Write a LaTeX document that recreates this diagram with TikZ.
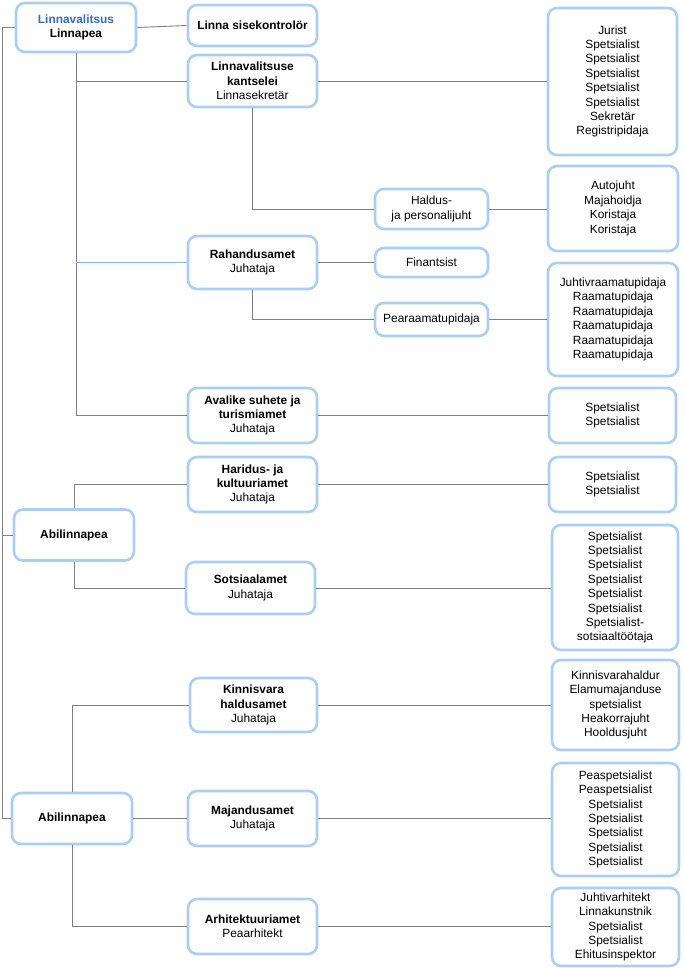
\documentclass[tikz,border=0pt]{standalone}
\usepackage{fontspec}
\setmainfont{Liberation Sans}
\definecolor{boxblue}{RGB}{172,206,242}
\definecolor{titleblue}{RGB}{59,109,181}
\definecolor{linegray}{RGB}{128,128,128}
\definecolor{lineblue}{RGB}{140,180,226}
\tikzset{
  box/.style={draw=boxblue, line width=2.6pt, rounded corners=9pt, fill=white,
    align=center, inner sep=0pt, font=\fontsize{11.9}{14.4}\selectfont},
  conn/.style={draw=linegray, line width=0.9pt},
  connblue/.style={draw=lineblue, line width=0.9pt}
}
\begin{document}
\begin{tikzpicture}[x=1pt,y=-1pt]
\useasboundingbox (0,0) rectangle (683,968);
% left column
\node[box, minimum width=120pt, minimum height=49pt] (lv) at (76,27.5) {\textcolor{titleblue}{\textbf{Linnavalitsus}}\\\textbf{Linnapea}};
\node[box, minimum width=120pt, minimum height=51pt] (ab1) at (74,535) {\textbf{Abilinnapea}};
\node[box, minimum width=120pt, minimum height=51pt] (ab2) at (72,818.5) {\textbf{Abilinnapea}};
% second column
\node[box, minimum width=129pt, minimum height=41pt] (sk) at (252.5,25.5) {\textbf{Linna sisekontrolör}};
\node[box, minimum width=129pt, minimum height=52pt] (kan) at (252.5,81) {\textbf{Linnavalitsuse}\\\textbf{kantselei}\\Linnasekretär};
\node[box, minimum width=129pt, minimum height=53pt] (rah) at (252.5,262.5) {\textbf{Rahandusamet}\\Juhataja};
\node[box, minimum width=129pt, minimum height=55pt] (ava) at (252.5,415.5) {\textbf{Avalike suhete ja}\\\textbf{turismiamet}\\Juhataja};
\node[box, minimum width=129pt, minimum height=55pt] (har) at (252.5,484.5) {\textbf{Haridus- ja}\\\textbf{kultuuriamet}\\Juhataja};
\node[box, minimum width=129pt, minimum height=52pt] (sots) at (250.5,588) {\textbf{Sotsiaalamet}\\Juhataja};
\node[box, minimum width=127pt, minimum height=54pt] (kin) at (253.5,705) {\textbf{Kinnisvara}\\\textbf{haldusamet}\\Juhataja};
\node[box, minimum width=129pt, minimum height=55pt] (maj) at (252.5,818.5) {\textbf{Majandusamet}\\Juhataja};
\node[box, minimum width=129pt, minimum height=55pt] (arh) at (252.5,926.5) {\textbf{Arhitektuuriamet}\\Peaarhitekt};
% third column
\node[box, minimum width=113pt, minimum height=40pt] (hal) at (431.5,209) {Haldus-\\ja personalijuht};
\node[box, minimum width=113pt, minimum height=29pt] (fin) at (431.5,262.5) {Finantsist};
\node[box, minimum width=113pt, minimum height=33pt] (pea) at (431.5,319.5) {Pearaamatupidaja};
% right column
\node[box, minimum width=129pt, minimum height=147pt] (r1) at (612.5,81.5) {Jurist\\Spetsialist\\Spetsialist\\Spetsialist\\Spetsialist\\Spetsialist\\Sekretär\\Registripidaja};
\node[box, minimum width=130pt, minimum height=85pt] (r2) at (613,208.5) {Autojuht\\Majahoidja\\Koristaja\\Koristaja};
\node[box, minimum width=130pt, minimum height=113pt] (r3) at (613,319.5) {Juhtivraamatupidaja\\Raamatupidaja\\Raamatupidaja\\Raamatupidaja\\Raamatupidaja\\Raamatupidaja};
\node[box, minimum width=127pt, minimum height=55pt] (r4) at (612.5,415.5) {Spetsialist\\Spetsialist};
\node[box, minimum width=127pt, minimum height=55pt] (r5) at (612.5,484.5) {Spetsialist\\Spetsialist};
\node[box, minimum width=126pt, minimum height=125pt] (r6) at (615,587.5) {Spetsialist\\Spetsialist\\Spetsialist\\Spetsialist\\Spetsialist\\Spetsialist\\Spetsialist-\\sotsiaaltöötaja};
\node[box, minimum width=127pt, minimum height=90pt] (r7) at (615.5,705) {Kinnisvarahaldur\\Elamumajanduse\\spetsialist\\Heakorrajuht\\Hooldusjuht};
\node[box, minimum width=127pt, minimum height=113pt] (r8) at (615.5,819.5) {Peaspetsialist\\Peaspetsialist\\Spetsialist\\Spetsialist\\Spetsialist\\Spetsialist\\Spetsialist};
\node[box, minimum width=127pt, minimum height=78pt] (r9) at (615.5,927) {Juhtivarhitekt\\Linnakunstnik\\Spetsialist\\Spetsialist\\Ehitusinspektor};
% trunk coordinate
\coordinate (t0) at (2,27.5);
% connectors
\draw[conn] (lv.west) -- (lv.west -| t0) -- (ab2.west -| t0) -- (ab2.west);
\draw[conn] (ab1.west -| t0) -- (ab1.west);
\draw[conn] (lv.east) -- (sk.west);
\draw[conn] (lv.south) -- (lv.south |- ava.west) -- (ava.west);
\draw[conn] (lv.south |- kan.west) -- (kan.west);
\draw[connblue] (lv.south |- rah.west) -- (rah.west);
\draw[conn] (kan.east) -- (kan.east -| r1.west);
\draw[conn] (kan.south) -- (kan.south |- hal.west) -- (hal.west);
\draw[conn] (hal.east) -- (hal.east -| r2.west);
\draw[conn] (rah.east) -- (fin.west);
\draw[conn] (rah.south) -- (rah.south |- pea.west) -- (pea.west);
\draw[conn] (pea.east) -- (pea.east -| r3.west);
\draw[conn] (ava.east) -- (ava.east -| r4.west);
\draw[conn] (har.east) -- (har.east -| r5.west);
\draw[conn] (sots.east) -- (sots.east -| r6.west);
\draw[conn] (ab1.north) -- (ab1.north |- har.west) -- (har.west);
\draw[conn] (ab1.south) -- (ab1.south |- sots.west) -- (sots.west);
\draw[conn] (ab2.north) -- (ab2.north |- kin.west) -- (kin.west);
\draw[conn] (ab2.east) -- (maj.west);
\draw[conn] (ab2.south) -- (ab2.south |- arh.west) -- (arh.west);
\draw[conn] (kin.east) -- (kin.east -| r7.west);
\draw[conn] (maj.east) -- (maj.east -| r8.west);
\draw[conn] (arh.east) -- (arh.east -| r9.west);
\end{tikzpicture}
\end{document}
